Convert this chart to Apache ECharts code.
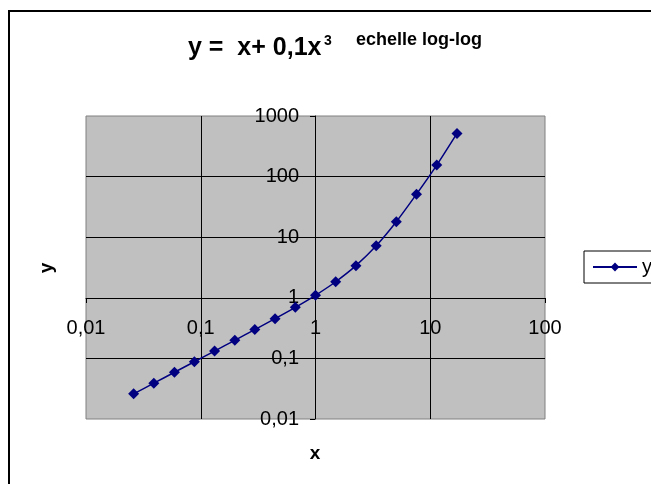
<!DOCTYPE html>
<html>
<head>
<meta charset="utf-8">
<script src="https://cdn.jsdelivr.net/npm/echarts@6/dist/echarts.min.js"></script>
<style>
  html, body { margin: 0; padding: 0; background: #fff; }
  #container { width: 651px; height: 484px; }
</style>
</head>
<body>
<div id="container"></div>
<script>
var dom = document.getElementById("container");
var myChart = echarts.init(dom);
var option;

// values (x ratio ~1.5 between points)
var xValues = [0.026, 0.039, 0.059, 0.088, 0.132, 0.198, 0.296, 0.444, 0.667, 1, 1.5, 2.25, 3.38, 5.06, 7.59, 11.4, 17.1];
var yValues = [0.026, 0.039, 0.059, 0.088, 0.132, 0.199, 0.299, 0.453, 0.696, 1.1, 1.84, 3.39, 7.22, 18.0, 51.3, 155, 516];
var seriesName = "y";

var font = "Liberation Sans, Arial, sans-serif";

var points = [];
for (var i = 0; i < xValues.length; i++) {
  points.push([xValues[i], yValues[i]]);
}

//comma as decimal separator like the original
function frLabel(v) {
  return String(Number(v.toPrecision(3))).replace(".", ",");
}

option = {
  animation: false,
  backgroundColor: "#fff",
  textStyle: { fontFamily: font },
  graphic: [
    {
      type: "rect",
      shape: { x: 9, y: 11, width: 700, height: 600 },
      style: { fill: "none", stroke: "#000", lineWidth: 2 },
      silent: true
    },
    {
      type: "text",
      left: 188,
      top: 36,
      style: { text: "y =  x+ 0,1x", fontFamily: font, fontSize: 25, fontWeight: "bold", fill: "#000" }
    },
    {
      //exponent of the title
      type: "text",
      left: 324,
      top: 34,
      style: { text: "3", fontFamily: font, fontSize: 14, fontWeight: "bold", fill: "#000" }
    },
    {
      type: "text",
      left: 356,
      top: 31,
      style: { text: "echelle log-log", fontFamily: font, fontSize: 18, fontWeight: "bold", fill: "#000" }
    },
    {
      type: "text",
      x: 315,
      y: 454,
      style: { text: "x", fontFamily: font, fontSize: 19, fontWeight: "bold", fill: "#000", align: "center", verticalAlign: "middle" }
    },
    {
      type: "text",
      x: 47,
      y: 268,
      rotation: Math.PI / 2,
      style: { text: "y", fontFamily: font, fontSize: 19, fontWeight: "bold", fill: "#000", align: "center", verticalAlign: "middle" }
    }
  ],
  legend: {
    left: 584,
    top: 251,
    orient: "vertical",
    padding: [6, 20, 6, 8],
    borderColor: "#000",
    borderWidth: 1,
    itemWidth: 44,
    itemHeight: 11,
    textStyle: { fontFamily: font, fontSize: 20, color: "#000" },
    data: [seriesName]
  },
  grid: {
    left: 86,
    top: 116,
    width: 459,
    height: 303,
    show: true,
    backgroundColor: "#c0c0c0",
    borderColor: "#808080",
    borderWidth: 1
  },
  xAxis: {
    type: "log",
    logBase: 10,
    min: 0.01,
    max: 100,
    position: "bottom",
    offset: -121,
    axisLine: { lineStyle: { color: "#000", width: 1 } },
    axisTick: { show: true, length: 5, lineStyle: { color: "#000" } },
    minorTick: { show: false },
    axisLabel: {
      color: "#000",
      fontSize: 20,
      fontFamily: font,
      margin: 20,
      showMinLabel: true,
      showMaxLabel: true,
      formatter: frLabel
    },
    splitLine: { show: true, showMinLine: false, showMaxLine: false, lineStyle: { color: "#000", width: 1 } }
  },
  yAxis: {
    type: "log",
    logBase: 10,
    min: 0.01,
    max: 1000,
    position: "left",
    offset: -229,
    axisLine: { lineStyle: { color: "#000", width: 1 } },
    axisTick: { show: true, length: 5, lineStyle: { color: "#000" } },
    axisLabel: {
      color: "#000",
      fontSize: 20,
      fontFamily: font,
      margin: 16,
      showMinLabel: true,
      showMaxLabel: true,
      formatter: frLabel
    },
    splitLine: { show: true, showMinLine: false, showMaxLine: false, lineStyle: { color: "#000", width: 1 } }
  },
  series: [
    {
      name: seriesName,
      type: "line",
      data: points,
      smooth: 0.3,
      symbol: "diamond",
      symbolSize: 11,
      itemStyle: { color: "#000080" },
      lineStyle: { color: "#000080", width: 1.5 }
    }
  ]
};

if (option && typeof option === "object") {
  myChart.setOption(option);
}
</script>
</body>
</html>
